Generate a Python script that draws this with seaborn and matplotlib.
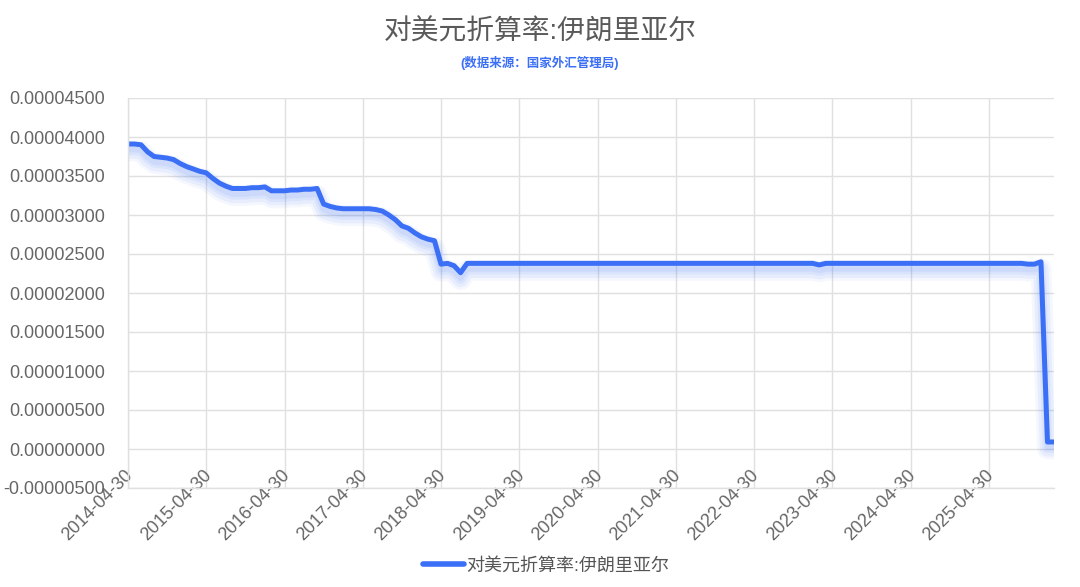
import numpy as np
import pandas as pd
import seaborn as sns
import matplotlib.pyplot as plt
import matplotlib.patheffects as pe
from matplotlib.transforms import ScaledTranslation
from matplotlib.ticker import FuncFormatter

sns.set_style("whitegrid")
plt.rcParams['font.family'] = ['Liberation Sans', 'Noto Sans CJK SC', 'DejaVu Sans']

series_name = "对美元折算率:伊朗里亚尔"
title = "对美元折算率:伊朗里亚尔"
subtitle = "(数据来源：国家外汇管理局)"

# month-end dates, 2014-04-30 .. 2026-02-28
dates = pd.date_range("2014-04-30", periods=143, freq="ME")

rate = [
    3.91e-5, 3.91e-5, 3.90e-5, 3.81e-5, 3.75e-5, 3.74e-5, 3.73e-5, 3.71e-5, 3.66e-5, 3.62e-5, 3.59e-5, 3.56e-5,
    3.54e-5, 3.47e-5, 3.41e-5, 3.37e-5, 3.34e-5, 3.34e-5, 3.34e-5, 3.35e-5, 3.35e-5, 3.36e-5, 3.31e-5, 3.31e-5,
    3.31e-5, 3.32e-5, 3.32e-5, 3.33e-5, 3.33e-5, 3.34e-5, 3.14e-5, 3.11e-5, 3.09e-5, 3.08e-5, 3.08e-5, 3.08e-5,
    3.08e-5, 3.08e-5, 3.07e-5, 3.05e-5, 3.00e-5, 2.94e-5, 2.86e-5, 2.83e-5, 2.77e-5, 2.72e-5, 2.69e-5, 2.67e-5,
    2.37e-5, 2.38e-5, 2.35e-5, 2.26e-5, 2.38e-5, 2.38e-5, 2.38e-5, 2.38e-5, 2.38e-5, 2.38e-5, 2.38e-5, 2.38e-5,
    2.38e-5, 2.38e-5, 2.38e-5, 2.38e-5, 2.38e-5, 2.38e-5, 2.38e-5, 2.38e-5, 2.38e-5, 2.38e-5, 2.38e-5, 2.38e-5,
    2.38e-5, 2.38e-5, 2.38e-5, 2.38e-5, 2.38e-5, 2.38e-5, 2.38e-5, 2.38e-5, 2.38e-5, 2.38e-5, 2.38e-5, 2.38e-5,
    2.38e-5, 2.38e-5, 2.38e-5, 2.38e-5, 2.38e-5, 2.38e-5, 2.38e-5, 2.38e-5, 2.38e-5, 2.38e-5, 2.38e-5, 2.38e-5,
    2.38e-5, 2.38e-5, 2.38e-5, 2.38e-5, 2.38e-5, 2.38e-5, 2.38e-5, 2.38e-5, 2.38e-5, 2.38e-5, 2.36e-5, 2.38e-5,
    2.38e-5, 2.38e-5, 2.38e-5, 2.38e-5, 2.38e-5, 2.38e-5, 2.38e-5, 2.38e-5, 2.38e-5, 2.38e-5, 2.38e-5, 2.38e-5,
    2.38e-5, 2.38e-5, 2.38e-5, 2.38e-5, 2.38e-5, 2.38e-5, 2.38e-5, 2.38e-5, 2.38e-5, 2.38e-5, 2.38e-5, 2.38e-5,
    2.38e-5, 2.38e-5, 2.38e-5, 2.38e-5, 2.38e-5, 2.38e-5, 2.37e-5, 2.37e-5, 2.40e-5, 0.09e-5, 0.09e-5,
]

df = pd.DataFrame({"idx": np.arange(len(rate)), "date": dates, "rate": rate})

blue = "#3b6ff6"
grey = "#666666"
gridc = "#e0e0e0"

fig = plt.figure(figsize=(10.8, 5.87), dpi=100)
ax = fig.add_axes([128 / 1080, 1 - 488 / 587, (1054 - 128) / 1080, 390 / 587])

sns.lineplot(data=df, x="idx", y="rate", ax=ax, color=blue, linewidth=3.6, label=series_name,
             legend=False)
line = ax.lines[0]
line.set_solid_joinstyle("round")
line.set_solid_capstyle("round")
# soft blue glow below the line
line.set_path_effects([
    pe.SimpleLineShadow(offset=(0, -5), shadow_color=blue, alpha=0.05, linewidth=15),
    pe.SimpleLineShadow(offset=(0, -5), shadow_color=blue, alpha=0.07, linewidth=11),
    pe.SimpleLineShadow(offset=(0, -4.5), shadow_color=blue, alpha=0.08, linewidth=7),
    pe.SimpleLineShadow(offset=(0, -4), shadow_color=blue, alpha=0.08, linewidth=4),
    pe.Normal(),
])

ax.set_xlim(0, len(rate) - 1)
ax.set_ylim(-0.000005, 0.000045)
ax.set_yticks(np.arange(-0.000005, 0.0000451, 0.000005))
ax.yaxis.set_major_formatter(FuncFormatter(lambda v, p: "%.8f" % v))

tick_pos = df["idx"][::12].tolist()
ax.set_xticks(tick_pos)
ax.set_xticklabels([d.strftime("%Y-%m-%d") for d in df["date"][::12]],
                   rotation=45, ha="right", va="baseline", rotation_mode="anchor")
ax.tick_params(axis="x", length=0, pad=0, labelsize=13, labelcolor=grey)
ax.tick_params(axis="y", length=0, pad=16.5, labelsize=13, labelcolor=grey)
shift = ScaledTranslation(0.056, 0.12, fig.dpi_scale_trans)
for lab in ax.get_xticklabels():
    lab.set_transform(lab.get_transform() + shift)

ax.set_xlabel("")
ax.set_ylabel("")
ax.grid(True, color=gridc, linewidth=1)
for s in ["top", "right"]:
    ax.spines[s].set_visible(False)
for s in ["left", "bottom"]:
    ax.spines[s].set_color(gridc)
    ax.spines[s].set_linewidth(1)

fig.text(0.5, 1 - 32 / 587, title, ha="center", va="center", fontsize=20, color="#5a5a5a")
fig.text(0.5, 1 - 63 / 587, subtitle, ha="center", va="center", fontsize=9, color=blue,
         fontweight="bold")

handle = plt.Line2D([], [], color=blue, linewidth=4, solid_capstyle="round")
fig.legend([handle], [series_name], loc="center", bbox_to_anchor=(0.5 + 6 / 1080, 1 - 566 / 587),
           frameon=False, fontsize=13, handlelength=2.3, handletextpad=0.1, labelcolor="#555555")

fig.savefig("out.png", dpi=100)
